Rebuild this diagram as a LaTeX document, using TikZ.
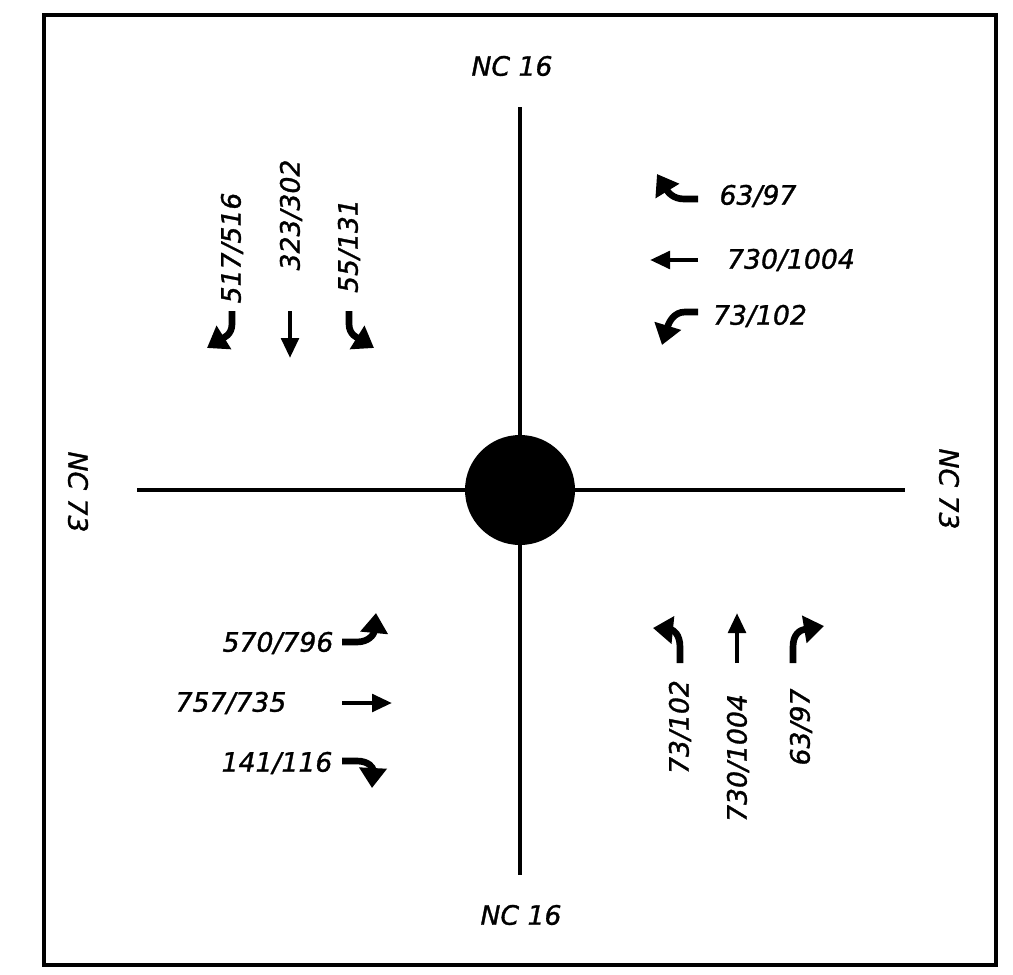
\documentclass[tikz,border=0pt]{standalone}
\usepackage{fontspec}
\setmainfont{DejaVu Sans}
\newfontfamily\lblfont{DejaVu Sans}[FakeBold=1.2]
\usetikzlibrary{arrows.meta}
\begin{document}
\begin{tikzpicture}[x=0.75pt,y=-0.75pt,
  lbl/.style={font=\lblfont\fontsize{20}{24}\selectfont\itshape, inner sep=0pt},
  road/.style={line width=2.6pt},
  frame/.style={line width=2.4pt},
  turnarr/.style={line width=5pt, -{Triangle[width=20pt,length=15pt]}},
  thruarr/.style={line width=3.3pt, -{Triangle[width=13pt,length=15pt]}}]
\useasboundingbox (0,0) rectangle (1013,974);
\draw[frame] (44,15) rectangle (996,965);
% roads
\coordinate (N) at (520,107);
\coordinate (S) at (520,875);
\coordinate (W) at (137,490);
\coordinate (E) at (905,490);
\node[circle, fill=black, inner sep=0pt, minimum size=82.5pt] (hub) at (520,490) {};
\draw[road] (N) -- (hub);
\draw[road] (hub) -- (S);
\draw[road] (W) -- (hub);
\draw[road] (hub) -- (E);
% road names
\node[lbl] (n16) at (512,66) {NC 16};
\node[lbl] (s16) at (521,915) {NC 16};
\node[lbl, rotate=-90] (w73) at (78,492) {NC 73};
\node[lbl, rotate=-90] (e73) at (949,489) {NC 73};
% southbound (top-left)
\node[lbl, rotate=90] (sbl) at (232,248) {517/516};
\node[lbl, rotate=90] (sbt) at (291,215) {323/302};
\node[lbl, rotate=90] (sbr) at (349,246) {55/131};
\draw[turnarr] (232,311) -- (232,324) .. controls (232,335) and (223,338) .. (207,348);
\draw[thruarr] (290,311) -- (290,358);
\draw[turnarr] (349,311) -- (349,324) .. controls (349,335) and (358,338) .. (374,348);
% westbound (top-right)
\node[lbl] (wbl) at (758,196) {63/97};
\node[lbl] (wbt) at (791,260) {730/1004};
\node[lbl] (wbr) at (760,316) {73/102};
\draw[turnarr] (698,199) -- (684,199) .. controls (673,199) and (668,192) .. (657,174);
\draw[thruarr] (698,260) -- (650,260);
\draw[turnarr] (698,312) -- (685,312) .. controls (674,312) and (669,322) .. (662,345);
% eastbound (bottom-left)
\node[lbl] (ebl) at (278,643) {570/796};
\node[lbl] (ebt) at (231,703) {757/735};
\node[lbl] (ebr) at (277,763) {141/116};
\draw[turnarr] (342,642) -- (357,642) .. controls (369,642) and (374,634) .. (376,613);
\draw[thruarr] (342,703) -- (392,703);
\draw[turnarr] (342,761) -- (357,761) .. controls (369,761) and (373,768) .. (372,788);
% northbound (bottom-right)
\node[lbl, rotate=90] (nbl) at (680,727) {73/102};
\node[lbl, rotate=90] (nbt) at (738,758) {730/1004};
\node[lbl, rotate=90] (nbr) at (801,727) {63/97};
\draw[turnarr] (680,663) -- (680,647) .. controls (680,634) and (673,630) .. (653,628);
\draw[thruarr] (737,663) -- (737,613);
\draw[turnarr] (793,663) -- (793,647) .. controls (793,634) and (800,630) .. (824,626);
\end{tikzpicture}
\end{document}
